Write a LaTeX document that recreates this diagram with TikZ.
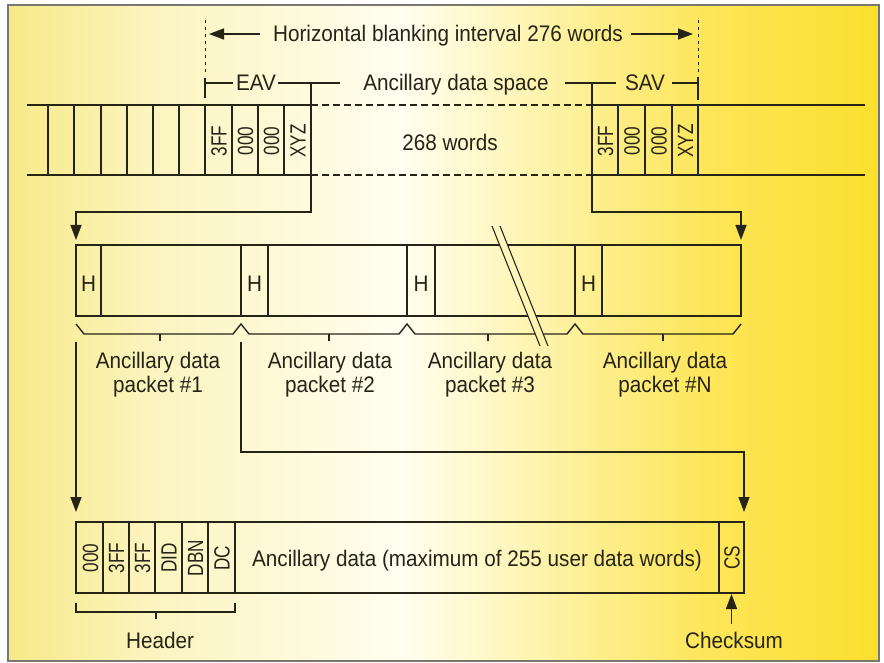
\documentclass[tikz,border=0pt]{standalone}
\usepackage{fontspec}
\setmainfont[FakeStretch=0.92]{Liberation Sans}
\newfontfamily\narrowfont[FakeStretch=0.78]{Liberation Sans}
\usetikzlibrary{arrows.meta}

\definecolor{ink}{RGB}{38,36,22}
\definecolor{frame}{RGB}{120,118,110}
\definecolor{pa}{RGB}{247,233,135}
\definecolor{pb}{RGB}{251,244,190}
\definecolor{pc}{RGB}{255,254,240}
\definecolor{pd}{RGB}{254,248,200}
\definecolor{pe}{RGB}{253,238,140}
\definecolor{pf}{RGB}{253,230,90}
\definecolor{pg}{RGB}{252,223,45}

% paper tone: pale yellow, nearly white in the middle, strong yellow on the right
\pgfdeclarehorizontalshading{paper}{100bp}{color(0bp)=(pa); color(25bp)=(pa);
  color(33bp)=(pb); color(47.5bp)=(pc); color(52.5bp)=(pd); color(59bp)=(pe);
  color(65bp)=(pf); color(75bp)=(pg); color(100bp)=(pg)}

\begin{document}
\begin{tikzpicture}[x=1pt,y=-1pt,
  ln/.style={draw=ink, line width=1.4pt},
  dash line/.style={ln, dash pattern=on 7pt off 4pt},
  dot line/.style={draw=ink, line width=1pt, dash pattern=on 3pt off 4pt},
  arr/.style={ln, -{Triangle[length=15pt,width=11pt]}},
  lbl/.style={font=\fontsize{22.5}{24}\selectfont, text=ink, inner sep=0pt},
  cell/.style={font=\narrowfont\fontsize{22}{24}\selectfont, text=ink,
    inner sep=0pt, rotate=90, text height=16pt, text depth=0pt},
  plabel/.style={lbl, align=center, anchor=north}]

\useasboundingbox (0,0) rectangle (884,663);
\shade[shading=paper] (8,5) rectangle (879,661);
\draw[frame, line width=1.2pt] (8,5) rectangle (879,661);

% ---------- blanking interval dimension ----------
\node[lbl, anchor=base] (hbi) at (448,42) {Horizontal blanking interval 276 words};
\coordinate (hl) at (205,34);
\coordinate (hr) at (698,34);
\draw[arr] (hbi.west |- hl) ++(-13,0) -- ([xshift=4pt]hl);
\draw[arr] (hbi.east |- hr) ++(8,0) -- ([xshift=-5pt]hr);
\draw[dot line] (205,20) -- (205,76);
\draw[dot line] (698,20) -- (698,76);

% ---------- EAV / data space / SAV brackets ----------
\node[lbl, anchor=base] (eav) at (256,91) {EAV};
\node[lbl, anchor=base] (ads) at (456,91) {Ancillary data space};
\node[lbl, anchor=base] (sav) at (645,91) {SAV};
\draw[ln] (205,78) -- (205,98);
\draw[ln] (205,83) -- (233,83);
\draw[ln] (278,83) -- (340,83);
\draw[ln] (311,83) -- (311,105);
\draw[ln] (565,83) -- (616,83);
\draw[ln] (592,83) -- (592,105);
\draw[ln] (672,83) -- (698,83);
\draw[ln] (698,77) -- (698,100);

% ---------- word stream ----------
\draw[ln] (27,105) -- (311,105);
\draw[ln] (27,175) -- (311,175);
\draw[dash line] (311,105) -- (592,105);
\draw[dash line] (311,175) -- (592,175);
\draw[ln] (592,105) -- (865,105);
\draw[ln] (592,175) -- (865,175);
\foreach \x in {48,74,101,127,153,179,205,232,258,284,311,592,618,645,672,698}
  \draw[ln] (\x,105) -- (\x,175);
\node[cell] (e1) at (218.5,141) {3FF};
\node[cell] (e2) at (245,141) {000};
\node[cell] (e3) at (271,141) {000};
\node[cell] (e4) at (297.5,141) {XYZ};
\node[cell] (s1) at (605,141) {3FF};
\node[cell] (s2) at (631.5,141) {000};
\node[cell] (s3) at (658.5,141) {000};
\node[cell] (s4) at (685,141) {XYZ};
\node[lbl, anchor=base] (w268) at (450,151) {268 words};

% ---------- ancillary data packets ----------
\coordinate (eavend) at (311,175);
\coordinate (savstart) at (592,175);
\coordinate (pktl) at (76,240);
\coordinate (pktr) at (741,240);
\draw[arr] (eavend) -- (311,212) -- (76,212) -- (pktl);
\draw[arr] (savstart) -- (592,212) -- (741,212) -- (pktr);

\draw[ln] (76,245) rectangle (741,316);
\foreach \x in {101,241,268,407,435,575,602}
  \draw[ln] (\x,245) -- (\x,316);
\node[lbl] (h1) at (88.5,284) {H};
\node[lbl] (h2) at (254.5,284) {H};
\node[lbl] (h3) at (421,284) {H};
\node[lbl] (h4) at (588.5,284) {H};

% braces under the packets
\draw[ln, line join=miter] (76,324) -- (84,334) -- (233,334) -- (241,324) -- (249,334)
  -- (399,334) -- (407,324) -- (415,334) -- (567,334) -- (575,324) -- (583,334)
  -- (733,334) -- (741,324);
\foreach \x in {160,329,488,663}
  \draw[ln] (\x,334) -- (\x,341);

% break in the packet sequence
\begin{scope}
  \clip (492,226) -- (500,226) -- (548,346) -- (540,346) -- cycle;
  \shade[shading=paper] (8,5) rectangle (879,661);
\end{scope}
\draw[draw=ink, line width=1.1pt] (492,226) -- (540,346);
\draw[draw=ink, line width=1.1pt] (500,226) -- (548,346);

\node[plabel] (p1) at (158,352) {Ancillary data\\packet \#1};
\node[plabel] (p2) at (330,352) {Ancillary data\\packet \#2};
\node[plabel] (p3) at (490,352) {Ancillary data\\packet \#3};
\node[plabel] (pn) at (665,352) {Ancillary data\\packet \#N};

% ---------- packet detail ----------
\coordinate (p1out) at (76,342);
\coordinate (p2out) at (241,342);
\coordinate (dl) at (76,512);
\coordinate (dr) at (744,512);
\draw[arr] (p1out) -- (dl);
\draw[arr] (p2out) -- (241,452) -- (744,452) -- (dr);

\draw[ln] (76,522) rectangle (744,593);
\foreach \x in {103,129,155,182,208,235,719}
  \draw[ln] (\x,522) -- (\x,593);
\node[cell] (d1) at (90,558) {000};
\node[cell] (d2) at (116,558) {3FF};
\node[cell] (d3) at (142,558) {3FF};
\node[cell] (d4) at (168.5,558) {DID};
\node[cell] (d5) at (195,558) {DBN};
\node[cell] (d6) at (221.5,558) {DC};
\node[cell] (cs) at (731.5,558) {CS};
\node[lbl, anchor=base] (udw) at (477,566) {Ancillary data (maximum of 255 user data words)};

% header bracket and checksum pointer
\draw[ln] (76,603) -- (76,612) -- (235,612) -- (235,603);
\draw[ln] (156,612) -- (156,619);
\node[lbl, anchor=base] (hdr) at (160,648) {Header};
\node[lbl, anchor=base] (chk) at (734,648) {Checksum};
\coordinate (csbot) at (731.5,594);
\draw[arr] (731.5,624) -- (csbot);

\end{tikzpicture}
\end{document}
